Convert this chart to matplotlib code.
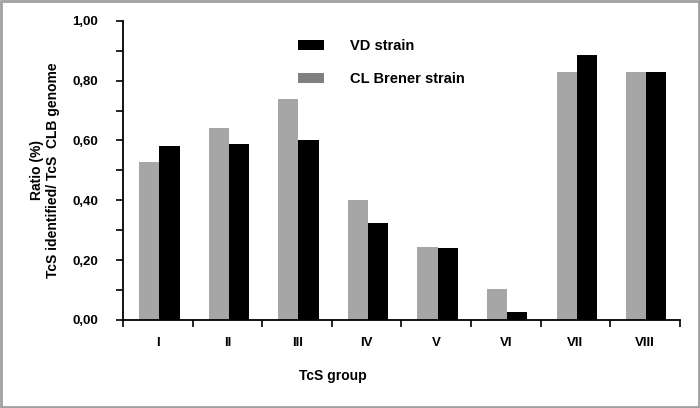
import matplotlib
matplotlib.use("Agg")
import matplotlib.pyplot as plt
from matplotlib.patches import Patch, Rectangle
from matplotlib.ticker import MultipleLocator, FixedLocator, NullFormatter, FuncFormatter
import numpy as np

groups = ["I", "II", "III", "IV", "V", "VI", "VII", "VIII"]
cl_brener = [0.529, 0.641, 0.738, 0.402, 0.245, 0.104, 0.828, 0.829]
vd_strain = [0.583, 0.588, 0.603, 0.324, 0.241, 0.027, 0.887, 0.829]

plt.rcParams['font.family'] = ['Liberation Sans', 'DejaVu Sans']
plt.rcParams['font.weight'] = 'bold'

fig = plt.figure(figsize=(7, 4.08), dpi=100)
ax = fig.add_axes([0.176, 0.216, 0.795, 0.733])

x = np.arange(len(groups))
w = 0.29
ax.bar(x - w / 2 + 0.02, cl_brener, w, color='#a6a6a6', linewidth=0)
ax.bar(x + w / 2 + 0.02, vd_strain, w, color='black', linewidth=0)

ax.set_xlim(-0.5, len(groups) - 0.5)
ax.set_ylim(0, 1.0)

for s in ['top', 'right']:
    ax.spines[s].set_visible(False)
for s in ['left', 'bottom']:
    ax.spines[s].set_linewidth(1.3)

# y ticks every 0.1, labels every 0.2
ax.yaxis.set_major_locator(MultipleLocator(0.1))
ax.yaxis.set_major_formatter(FuncFormatter(
    lambda v, p: ("%.2f" % v).replace('.', ',') if round(v * 10) % 2 == 0 else ''))
ax.tick_params(axis='y', direction='out', length=5, width=1.2, labelsize=9.5, pad=13)

# x ticks at group boundaries, labels at centers
ax.xaxis.set_major_locator(FixedLocator(np.arange(-0.5, len(groups), 1.0)))
ax.xaxis.set_major_formatter(NullFormatter())
ax.xaxis.set_minor_locator(FixedLocator(x))
ax.set_xticklabels(groups, minor=True)
ax.tick_params(axis='x', which='major', direction='out', length=5, width=1.2)
ax.tick_params(axis='x', which='minor', length=0, labelsize=9.5, pad=12)

fig.text(333 / 700, 1 - 376 / 408, "TcS group", fontsize=10, fontweight='bold',
         ha='center', va='center')
ax.set_ylabel("Ratio (%)\nTcS identified/ TcS  CLB genome", fontsize=10,
              fontweight='bold', labelpad=9, linespacing=1.15)

handles = [Patch(facecolor='black'), Patch(facecolor='#808080')]
ax.legend(handles, ["VD strain", "CL Brener strain"], frameon=False,
          loc='upper left', bbox_to_anchor=(298 / 700, 1 - 39 / 408),
          bbox_transform=fig.transFigure, fontsize=10.5, handlelength=1.78,
          handleheight=0.62, handletextpad=1.78, labelspacing=1.3, borderpad=0,
          borderaxespad=0)

fig.patches.append(Rectangle((0.002, 0.003), 0.996, 0.994, transform=fig.transFigure,
                             fill=False, edgecolor='#a0a0a0', linewidth=2))

fig.savefig("out.png", dpi=100)
